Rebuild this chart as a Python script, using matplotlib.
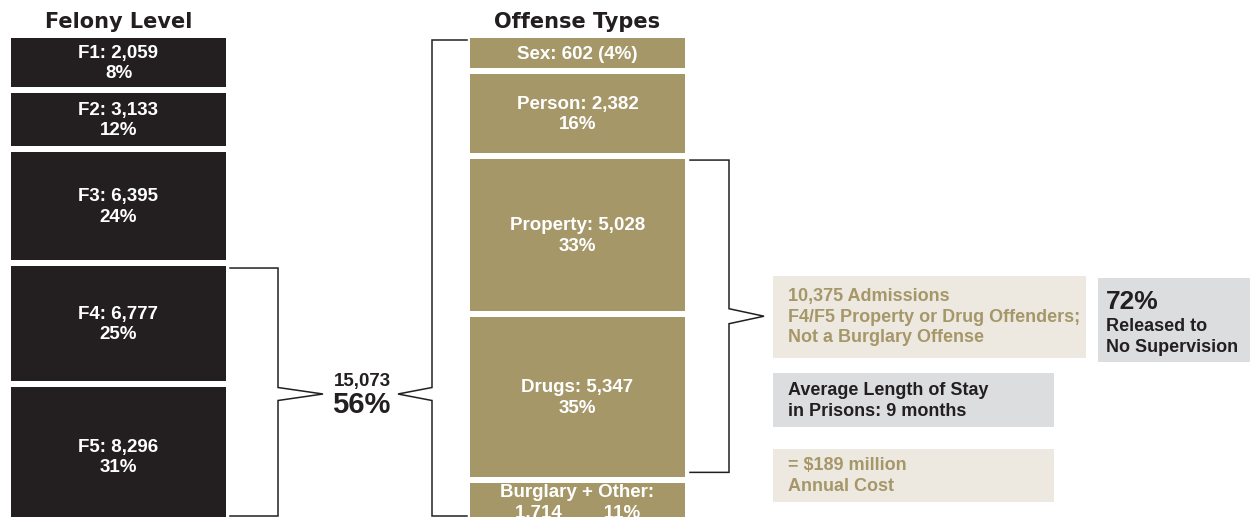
import matplotlib
matplotlib.use("Agg")
import matplotlib.pyplot as plt
from matplotlib.patches import Rectangle

felony_labels = ["F1", "F2", "F3", "F4", "F5"]
felony_counts = [2059, 3133, 6395, 6777, 8296]
felony_pcts = [8, 12, 24, 25, 31]

offense_labels = ["Sex", "Person", "Property", "Drugs", "Burglary + Other"]
offense_counts = [602, 2382, 5028, 5347, 1714]
offense_pcts = [4, 16, 33, 35, 11]

f4f5_total = 15073
f4f5_pct = 56
target_admissions = 10375
no_supervision_pct = 72
avg_stay_months = 9
annual_cost_musd = 189

DARK = "#231f20"
GOLD = "#a69769"
BEIGE = "#ede9e1"
GRAY = "#dcdddf"
FONT = "Liberation Sans"
FS = 13.5
LS = 1.25

fig = plt.figure(figsize=(12.5, 5.17), dpi=100)
ax = fig.add_axes([0, 0, 1, 1])
ax.set_xlim(0, 1250)
ax.set_ylim(517, 0)
ax.axis("off")


def stack(values, hmin, base, k, top=38, gap=6):
    # box extents (top, bottom) for a stacked column
    out = []
    y = top
    for v in values:
        h = max(hmin, base + k * v)
        out.append((y, y + h))
        y += h + gap
    return out


def bracket(x_open, x_spine, y0, y1, y_tip, x_tip, half=6.5):
    xs = [x_open, x_spine, x_spine, x_tip, x_spine, x_spine, x_open]
    ys = [y0, y0, y_tip - half, y_tip, y_tip + half, y1, y1]
    ax.plot(xs, ys, color=DARK, lw=1.1, solid_joinstyle="miter")


# felony column
fel_x0, fel_x1 = 11, 226
fel_boxes = stack(felony_counts, 49, 0, 0.0169)
for (y0, y1), lab, n, p in zip(fel_boxes, felony_labels, felony_counts, felony_pcts):
    ax.add_patch(Rectangle((fel_x0, y0), fel_x1 - fel_x0, y1 - y0, color=DARK, lw=0))
    ax.text((fel_x0 + fel_x1) / 2, (y0 + y1) / 2 + 1, f"{lab}: {n:,}\n{p}%",
            ha="center", va="center", color="white", fontsize=FS, fontweight="bold",
            family=FONT, linespacing=LS)

# offense column
off_x0, off_x1 = 470, 685
off_boxes = stack(offense_counts, 24, 13.5, 0.0275)
for (y0, y1), lab, n, p in zip(off_boxes, offense_labels, offense_counts, offense_pcts):
    ax.add_patch(Rectangle((off_x0, y0), off_x1 - off_x0, y1 - y0, color=GOLD, lw=0))
    cx = (off_x0 + off_x1) / 2
    if lab == "Sex":
        ax.text(cx, (y0 + y1) / 2 + 1, f"{lab}: {n:,} ({p}%)", ha="center", va="center",
                color="white", fontsize=FS, fontweight="bold", family=FONT)
    elif lab.startswith("Burglary"):
        ax.text(cx, y0 + 1, f"{lab}:\n{n:,}        {p}%", ha="center", va="top",
                color="white", fontsize=FS, fontweight="bold", family=FONT,
                linespacing=LS)
    else:
        ax.text(cx, (y0 + y1) / 2 + 1, f"{lab}: {n:,}\n{p}%", ha="center", va="center",
                color="white", fontsize=FS, fontweight="bold", family=FONT,
                linespacing=LS)

# titles
ax.text((fel_x0 + fel_x1) / 2, 28, "Felony Level", ha="center", va="baseline",
        fontsize=15, fontweight="bold", color=DARK, family="DejaVu Sans")
ax.text((off_x0 + off_x1) / 2, 28, "Offense Types", ha="center", va="baseline",
        fontsize=15, fontweight="bold", color=DARK, family="DejaVu Sans")

# brackets
bottom = 516
mid_y = 394
bracket(230, 278, fel_boxes[3][0] + 2, bottom, mid_y, 323)
bracket(467, 432, off_boxes[0][0] + 2, bottom, mid_y, 398)
ax.text(362, 386, f"{f4f5_total:,}", ha="center", va="baseline", fontsize=13.5,
        fontweight="bold", color=DARK, family=FONT)
ax.text(361, 413, f"{f4f5_pct}%", ha="center", va="baseline", fontsize=21,
        fontweight="bold", color=DARK, family=FONT)

p_top = off_boxes[2][0] + 1
d_bot = off_boxes[3][1] - 5
bracket(690, 729, p_top, d_bot, (p_top + d_bot) / 2, 764, half=7.5)

# side call-out boxes
ax.add_patch(Rectangle((773, 276), 313, 82, color=BEIGE, lw=0))
ax.text(788, 317, f"{target_admissions:,} Admissions\nF4/F5 Property or Drug Offenders;\n"
        "Not a Burglary Offense", ha="left", va="center", color=GOLD, fontsize=13,
        fontweight="bold", family=FONT, linespacing=LS)

ax.add_patch(Rectangle((1098, 278), 152, 84, color=GRAY, lw=0))
ax.text(1106, 309, f"{no_supervision_pct}%", ha="left", va="baseline", color=DARK,
        fontsize=19, fontweight="bold", family=FONT)
ax.text(1106, 331, "Released to", ha="left", va="baseline", color=DARK,
        fontsize=13, fontweight="bold", family=FONT)
ax.text(1106, 352, "No Supervision", ha="left", va="baseline", color=DARK,
        fontsize=13, fontweight="bold", family=FONT)

ax.add_patch(Rectangle((773, 373), 281, 54, color=GRAY, lw=0))
ax.text(788, 401, f"Average Length of Stay\nin Prisons: {avg_stay_months} months",
        ha="left", va="center", color=DARK, fontsize=13, fontweight="bold",
        family=FONT, linespacing=LS)

ax.add_patch(Rectangle((773, 449), 281, 53, color=BEIGE, lw=0))
ax.text(788, 476, f"= ${annual_cost_musd} million\nAnnual Cost",
        ha="left", va="center", color=GOLD, fontsize=13, fontweight="bold",
        family=FONT, linespacing=LS)

fig.savefig("out.png", dpi=100)
